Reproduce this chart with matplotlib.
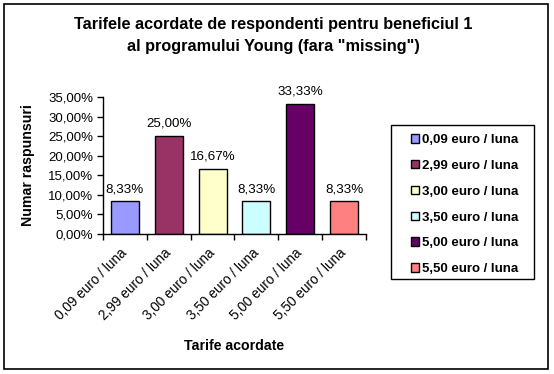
import matplotlib.pyplot as plt
from matplotlib.patches import Rectangle
from matplotlib.ticker import FuncFormatter, FixedLocator
import numpy as np

plt.rcParams['font.family'] = ['Liberation Sans', 'DejaVu Sans']

categories = ['0,09 euro / luna', '2,99 euro / luna', '3,00 euro / luna',
              '3,50 euro / luna', '5,00 euro / luna', '5,50 euro / luna']
values = [8.33, 25.00, 16.67, 8.33, 33.33, 8.33]
colors = ['#9999FF', '#993366', '#FFFFCC', '#CCFFFF', '#660066', '#FF8080']
yticks = [0, 5, 10, 15, 20, 25, 30, 35]

W, H = 554, 374
fig = plt.figure(figsize=(W / 100, H / 100), dpi=100)
ax = fig.add_axes([103 / W, 1 - 234 / H, (366 - 103) / W, (234 - 97) / H])

x = np.arange(len(categories))
bars = []
for i, (v, c) in enumerate(zip(values, colors)):
    b = ax.bar(x[i], v, width=0.64, color=c, edgecolor='black', linewidth=1,
               label=categories[i])
    bars.append(b)
    ax.text(x[i], v + 1.6, f'{v:.2f}'.replace('.', ',') + '%',
            ha='center', va='bottom', fontsize=9.6)

ax.set_xlim(-0.5, len(categories) - 0.5)
ax.set_ylim(0, 35)
ax.set_yticks(yticks)
ax.yaxis.set_major_formatter(FuncFormatter(lambda v, p: f'{v:.2f}'.replace('.', ',') + '%'))
ax.tick_params(axis='y', labelsize=9.5, length=4, width=1, direction='out', pad=3)

# category labels sit between the tick marks
ax.xaxis.set_major_locator(FixedLocator(np.arange(-0.5, len(categories), 1)))
ax.xaxis.set_major_formatter(FuncFormatter(lambda v, p: ''))
ax.set_xticks(x, minor=True)
ax.set_xticklabels(categories, minor=True, rotation=45, ha='right', va='center',
                   rotation_mode='anchor', fontsize=9.8)
ax.tick_params(axis='x', which='major', length=4, width=1, direction='out')
ax.tick_params(axis='x', which='minor', length=0, pad=12)

for s in ['top', 'right']:
    ax.spines[s].set_visible(False)
for s in ['left', 'bottom']:
    ax.spines[s].set_linewidth(1)

fig.text(273 / W, 1 - 24 / H, 'Tarifele acordate de respondenti pentru beneficiul 1',
         ha='center', va='center', fontsize=11.7, fontweight='bold')
fig.text(273 / W, 1 - 46 / H, 'al programului Young (fara "missing")',
         ha='center', va='center', fontsize=11.7, fontweight='bold')
fig.text(28 / W, 1 - 165 / H, 'Numar raspunsuri', rotation=90,
         ha='center', va='center', fontsize=10.2, fontweight='bold')
fig.text(234 / W, 1 - 346 / H, 'Tarife acordate',
         ha='center', va='center', fontsize=10.2, fontweight='bold')

# legend entries without frame, frame drawn separately
leg = fig.legend(handles=[b[0] for b in bars], labels=categories,
                 loc='upper left', bbox_to_anchor=(411 / W, 1 - 134 / H),
                 frameon=False, prop={'size': 9.5, 'weight': 'bold'},
                 handlelength=0.62, handleheight=0.62, handletextpad=0.25,
                 labelspacing=1.05, borderpad=0, borderaxespad=0)
fig.patches.append(Rectangle((391 / W, 1 - 279 / H), 143 / W, 154 / H,
                             transform=fig.transFigure, fill=False,
                             edgecolor='black', linewidth=1))

fig.patches.append(Rectangle((4 / W, 1 - 369 / H), 544 / W, 365 / H,
                             transform=fig.transFigure, fill=False,
                             edgecolor='black', linewidth=1.2))

fig.savefig('out.png', dpi=100)
